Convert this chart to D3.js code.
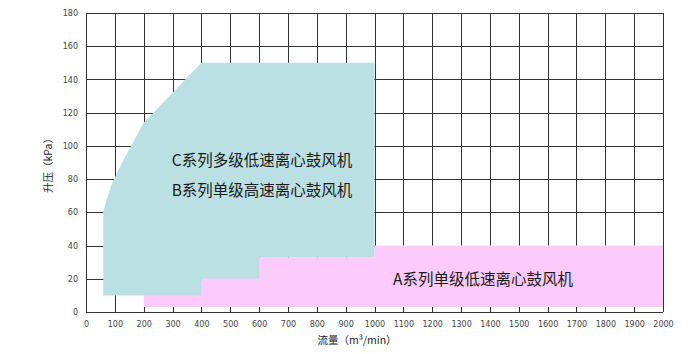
<!DOCTYPE html>
<html>
<head>
<meta charset="utf-8">
<script src="https://d3js.org/d3.v7.min.js"></script>
<style>
  body { margin:0; background:#fff; }
  .grid line { stroke:#333; stroke-width:1; shape-rendering:crispEdges; }
  .grid text { fill:#444; font-family:"DejaVu Sans", sans-serif; font-size:8px; }
  .lbl { fill:#1a1a1a; font-family:"Noto Sans CJK SC", sans-serif; font-size:15.5px; }
  .title { fill:#222; font-family:"Noto Sans CJK SC", sans-serif; font-size:10.5px; }
</style>
</head>
<body>
<svg id="chart" width="700" height="354"></svg>
<script>
// axis ticks
var xTicks = d3.range(0, 2001, 100);
var yTicks = d3.range(0, 181, 20);

// region boundaries [flow, pressure]
var regionBC = [[60,10],[60,60],[70,67],[85,75],[100,81],[125,90],[150,98],[175,106],[200,114],
                [400,150],[1000,150],[1000,33],[600,33],[600,20],[400,20],[400,10]];
var regionA = [[200,3],[2000,3],[2000,40],[1000,40],[1000,33],[200,33]];

// labels [flow, pressure, text]
var labels = [
  [610, 92, "C系列多级低速离心鼓风机"],
  [610, 74, "B系列单级高速离心鼓风机"],
  [1376, 20.5, "A系列单级低速离心鼓风机"]
];

var plotL = 86, plotR = 663, plotT = 13, plotB = 312;
var svg = d3.select('#chart');

var x = d3.scaleLinear().domain([0, 2000]).range([plotL, plotR]);
var y = d3.scaleLinear().domain([0, 180]).range([plotB, plotT]);

// grid via axes
var gx = svg.append('g').attr('class','grid')
  .attr('transform','translate(0,'+plotB+')')
  .call(d3.axisBottom(x).tickValues(xTicks).tickFormat(d3.format('d'))
        .tickSize(-(plotB-plotT)).tickPadding(9));
gx.select('.domain').remove();

var gy = svg.append('g').attr('class','grid')
  .attr('transform','translate('+plotL+',0)')
  .call(d3.axisLeft(y).tickValues(yTicks).tickSize(-(plotR-plotL)).tickPadding(8));
gy.select('.domain').remove();

var line = d3.line().x(function(d){return x(d[0]);}).y(function(d){return y(d[1]);});

svg.append('path').attr('d', line(regionA) + 'Z').attr('fill','#fccbfc');
svg.append('path').attr('d', line(regionBC) + 'Z').attr('fill','#bbe0e3');

svg.selectAll('.lbl').data(labels).enter().append('text')
  .attr('class','lbl')
  .attr('x', function(d){return x(d[0]);})
  .attr('y', function(d){return y(d[1]);})
  .attr('text-anchor','middle')
  .attr('dominant-baseline','central')
  .text(function(d){return d[2];});

svg.append('text').attr('class','title')
  .attr('x', 357).attr('y', 344)
  .attr('text-anchor','middle')
  .text('流量（m³/min）');

svg.append('text').attr('class','title')
  .attr('transform','translate(52,163) rotate(-90)')
  .attr('text-anchor','middle')
  .text('升压（kPa）');
</script>
</body>
</html>
